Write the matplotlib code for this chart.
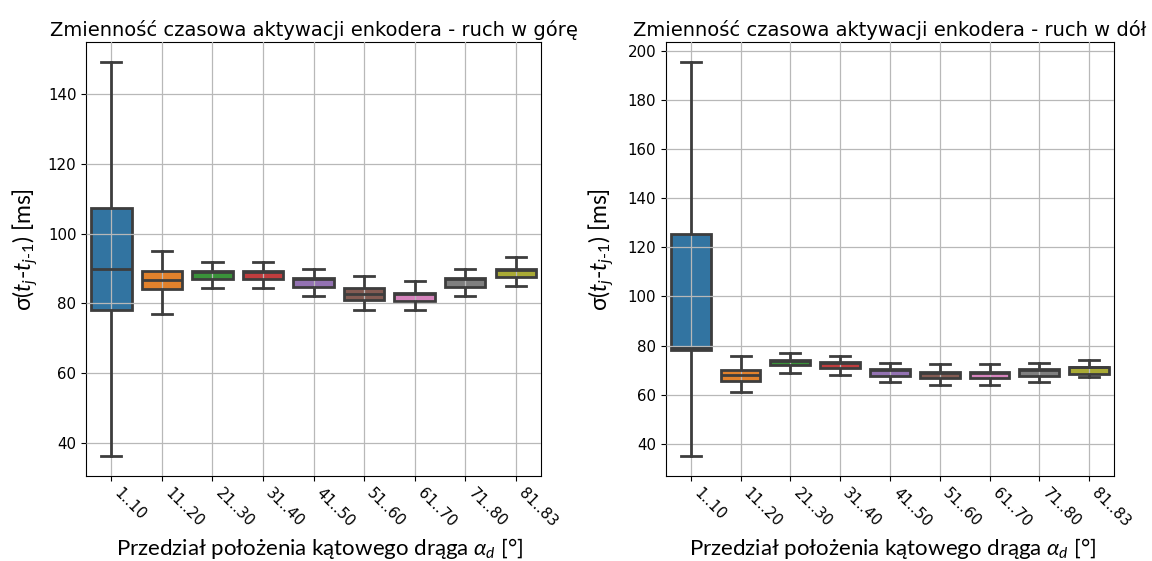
import matplotlib
matplotlib.use('Agg')
import matplotlib.pyplot as plt

# Categories (angular position ranges)
ranges = ['1..10', '11..20', '21..30', '31..40', '41..50',
          '51..60', '61..70', '71..80', '81..83']

# Upward movement - box statistics [ms]
whislo_up = [36.2, 77.1, 84.3, 84.3, 82.2, 78.1, 78.1, 82.2, 85.0]
q1_up = [78.1, 84.1, 87.0, 87.0, 84.8, 80.9, 80.7, 84.8, 87.6]
med_up = [90.0, 86.6, 89.1, 89.1, 87.0, 82.6, 82.8, 87.0, 89.7]
q3_up = [107.3, 89.3, 89.4, 89.4, 87.3, 84.3, 83.1, 87.3, 90.0]
whishi_up = [149.3, 95.0, 92.0, 92.0, 89.9, 87.9, 86.4, 89.9, 93.3]

# Downward movement - box statistics [ms]
whislo_dn = [34.9, 61.0, 68.8, 68.1, 65.2, 64.0, 64.0, 65.2, 67.0]
q1_dn = [78.3, 65.7, 71.9, 70.8, 67.8, 66.6, 66.6, 67.8, 68.4]
med_dn = [79.0, 68.2, 73.9, 73.0, 70.0, 68.9, 68.9, 70.0, 71.1]
q3_dn = [125.5, 70.2, 74.2, 73.3, 70.3, 69.2, 69.2, 70.3, 71.4]
whishi_dn = [195.6, 75.9, 76.9, 75.9, 72.9, 72.3, 72.3, 72.9, 74.2]

titles = ['Zmienność czasowa aktywacji enkodera - ruch w górę',
          'Zmienność czasowa aktywacji enkodera - ruch w dół']

colors = ['#3274a1', '#e1812c', '#3a923a', '#c03d3e', '#9372b2',
          '#845b53', '#d684bd', '#7f7f7f', '#a9aa35']
line_color = '#3d3d3d'

plt.rcParams['font.family'] = 'DejaVu Sans'
plt.rcParams['mathtext.fontset'] = 'custom'
plt.rcParams['mathtext.rm'] = 'Lato'
plt.rcParams['mathtext.it'] = 'Lato:italic'

fig = plt.figure(figsize=(11.52, 5.61), dpi=100)
ax1 = fig.add_axes([0.0747, 0.1515, 0.395, 0.7736])
ax2 = fig.add_axes([0.578, 0.1515, 0.389, 0.7736])

datasets = [
    (ax1, whislo_up, q1_up, med_up, q3_up, whishi_up, -0.134, 0.514),
    (ax2, whislo_dn, q1_dn, med_dn, q3_dn, whishi_dn, -0.145, 0.507),
]

for i, (ax, lo, q1, med, q3, hi, ylab_x, xlab_x) in enumerate(datasets):
    stats = []
    for j in range(len(ranges)):
        stats.append({'whislo': lo[j], 'q1': q1[j], 'med': med[j],
                      'q3': q3[j], 'whishi': hi[j], 'fliers': []})
    bp = ax.bxp(stats, positions=range(len(ranges)), widths=0.8,
                capwidths=0.4, patch_artist=True, showfliers=False,
                boxprops=dict(edgecolor=line_color, linewidth=2.0),
                medianprops=dict(color=line_color, linewidth=2.0, zorder=3),
                whiskerprops=dict(color=line_color, linewidth=2.0, zorder=3),
                capprops=dict(color=line_color, linewidth=2.0, zorder=3))
    for patch, c in zip(bp['boxes'], colors):
        patch.set_facecolor(c)
        patch.set_zorder(2)

    ax.set_xlim(-0.5, len(ranges) - 0.5)
    ax.set_xticks(range(len(ranges)))
    ax.set_xticklabels(ranges, rotation=-45, ha='left', fontsize=10.8)
    ax.tick_params(axis='y', labelsize=10.8)
    ax.set_axisbelow(False)
    ax.grid(True, color='#b8b8b8', linewidth=0.9)
    ax.set_title(titles[i], fontsize=14, pad=4)

    ax.set_ylabel(r'σ($t_j$-$t_{j\text{-}1}$) [ms]', fontsize=16.5,
                  family='Lato', va='center')
    ax.yaxis.set_label_coords(ylab_x, 0.521)
    ax.set_xlabel(r'Przedział położenia kątowego drąga $\alpha_d$ [°]',
                  fontsize=16, family='Lato', va='center')
    ax.xaxis.set_label_coords(xlab_x, -0.168)

ax1.set_yticks([40, 60, 80, 100, 120, 140])
ax2.set_yticks([40, 60, 80, 100, 120, 140, 160, 180, 200])

plt.savefig('out.png', dpi=100)
plt.close()
